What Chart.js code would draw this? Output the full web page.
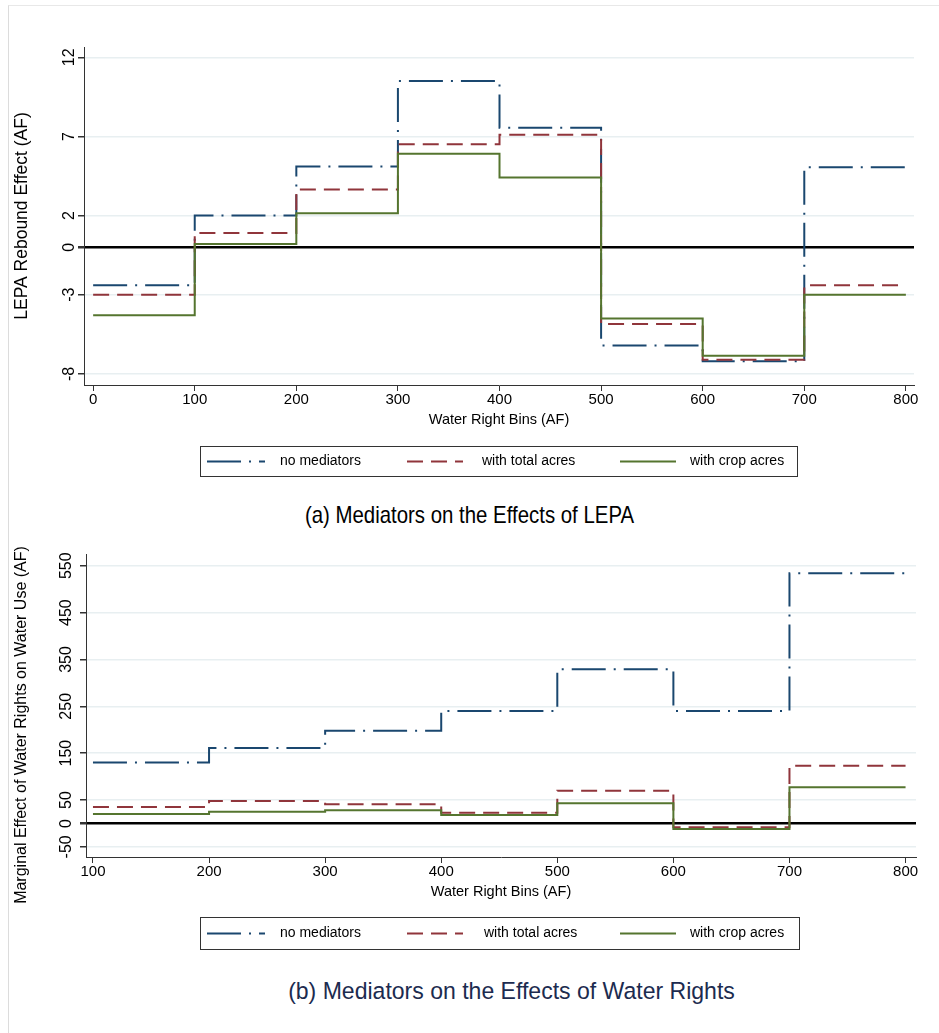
<!DOCTYPE html>
<html>
<head>
<meta charset="utf-8">
<script src="https://cdn.jsdelivr.net/npm/chart.js@4.4.0/dist/chart.umd.min.js"></script>
<style>
  body { margin: 0; background: #fff; }
  #page { position: relative; width: 939px; height: 1033px; overflow: hidden; font-family: "Liberation Sans", Arial, sans-serif; }
  #frame { position: absolute; left: 8px; top: 5px; right: -2px; bottom: -2px; border-left: 1px solid #dcdcdc; border-top: 1px solid #e8e8e8; }
  canvas { position: absolute; left: 0; }
  #chartA { top: 0; }
  #chartB { top: 540px; }
  .cap { position: absolute; white-space: nowrap; transform-origin: center center; }
  #capA { top: 501px; left: 0; width: 939px; text-align: center; font-size: 24px; color: #000; transform: scaleX(0.85); }
  #capB { top: 977px; left: 42px; width: 939px; text-align: center; font-size: 24.5px; color: #1c2b4f; transform: scaleX(0.94); }
</style>
</head>
<body>
<div id="page">
  <div id="frame"></div>
  <canvas id="chartA" width="939" height="490"></canvas>
  <div class="cap" id="capA">(a) Mediators on the Effects of LEPA</div>
  <canvas id="chartB" width="939" height="420"></canvas>
  <div class="cap" id="capB">(b) Mediators on the Effects of Water Rights</div>
</div>
<script>
// panel (a): LEPA rebound effect by water right bin
const binsA = [0, 100, 200, 300, 400, 500, 600, 700, 800];
const noMedA = [-2.4, 2.0, 5.1, 10.5, 7.55, -6.2, -7.2, 5.05];
const totalA = [-3.0, 0.9, 3.65, 6.5, 7.1, -4.85, -7.1, -2.4];
const cropA = [-4.3, 0.2, 2.15, 5.9, 4.4, -4.5, -6.85, -3.0];
const yTicksA = [12, 7, 2, 0, -3, -8];

// panel (b): marginal effect of water rights
const binsB = [100, 200, 300, 400, 500, 600, 700, 800];
const noMedB = [130, 161, 198, 240, 329, 240, 534];
const totalB = [35, 48, 41, 23, 70, -8, 123];
const cropB = [20, 25, 28, 18, 43, -12, 77];
const yTicksB = [550, 450, 350, 250, 150, 50, 0, -50];

const seriesNames = ["no mediators", "with total acres", "with crop acres"];

const FONT = '"Liberation Sans", Arial, sans-serif';
Chart.defaults.font.family = FONT;
Chart.defaults.color = "#000";

// step series: each bin value runs until the next bin edge
function steps(bins, vals) {
  const pts = vals.map((v, i) => ({ x: bins[i], y: v }));
  pts.push({ x: bins[vals.length], y: vals[vals.length - 1] });
  return pts;
}

function makeDatasets(bins, a, b, c) {
  return [
    { label: seriesNames[0], data: steps(bins, a), borderColor: "#1a476f", borderWidth: 2, borderDash: [34, 8, 2, 8], order: 3 },
    { label: seriesNames[1], data: steps(bins, b), borderColor: "#90353b", borderWidth: 2, borderDash: [16, 8], order: 2 },
    { label: seriesNames[2], data: steps(bins, c), borderColor: "#55752f", borderWidth: 2, order: 1 },
  ].map(d => Object.assign(d, { stepped: true, pointRadius: 0, fill: false }));
}

const boxLegend = {
  id: "boxLegend",
  afterDraw(chart, args, o) {
    const ctx = chart.ctx;
    ctx.save();
    ctx.strokeStyle = "#333";
    ctx.lineWidth = 1;
    ctx.strokeRect(o.left + 0.5, o.top + 0.5, o.width, o.height);
    const cy = o.top + o.height / 2 + 0.5;
    chart.data.datasets.forEach((ds, i) => {
      const it = o.items[i];
      ctx.strokeStyle = ds.borderColor;
      ctx.lineWidth = ds.borderWidth;
      ctx.setLineDash(ds.borderDash || []);
      ctx.beginPath();
      ctx.moveTo(it[0], cy);
      ctx.lineTo(it[1], cy);
      ctx.stroke();
      ctx.setLineDash([]);
      ctx.fillStyle = "#000";
      ctx.font = "14px " + FONT;
      ctx.textBaseline = "middle";
      ctx.fillText(ds.label, it[2], cy);
    });
    ctx.restore();
  }
};

const yTitle = {
  id: "yTitle",
  afterDraw(chart, args, o) {
    const ctx = chart.ctx;
    ctx.save();
    ctx.translate(o.x, o.y);
    ctx.rotate(-Math.PI / 2);
    ctx.font = o.size + "px " + FONT;
    ctx.fillStyle = "#000";
    ctx.textAlign = "center";
    ctx.textBaseline = "middle";
    ctx.fillText(o.text, 0, 0);
    ctx.restore();
  }
};

function makeChart(id, cfg) {
  return new Chart(document.getElementById(id), {
    type: "line",
    data: { datasets: cfg.datasets },
    plugins: [boxLegend, yTitle],
    options: {
      responsive: false,
      animation: false,
      layout: { padding: cfg.padding },
      plugins: {
        legend: { display: false },
        tooltip: { enabled: false },
        boxLegend: cfg.legend,
        yTitle: cfg.yTitle,
      },
      scales: {
        x: {
          type: "linear",
          min: cfg.xMin,
          max: cfg.xMax,
          afterBuildTicks: s => { s.ticks = cfg.xTicks.map(v => ({ value: v })); },
          afterFit: s => { s.height = 44; },
          grid: { drawOnChartArea: false, drawTicks: true, tickLength: 6, color: "#333" },
          border: { color: "#333", width: 1 },
          ticks: { font: { size: 15 }, padding: 0, maxRotation: 0 },
          title: { display: true, text: "Water Right Bins (AF)", font: { size: 14.5 }, padding: 0 },
        },
        y: {
          type: "linear",
          min: cfg.yMin,
          max: cfg.yMax,
          afterBuildTicks: s => { s.ticks = cfg.yTicks.map(v => ({ value: v })); },
          afterFit: s => { s.width = cfg.yWidth; },
          grid: {
            color: c => (c.tick && c.tick.value === 0 ? "#000" : "#e8eff1"),
            lineWidth: c => (c.tick && c.tick.value === 0 ? 2.5 : 1.5),
            tickColor: "#333",
            tickLength: 6,
          },
          border: { color: "#333", width: 1 },
          ticks: { font: { size: 16 }, minRotation: 90, maxRotation: 90, crossAlign: "center", padding: 0 },
        },
      },
    },
  });
}

makeChart("chartA", {
  datasets: makeDatasets(binsA, noMedA, totalA, cropA),
  xMin: -9, xMax: 808, xTicks: binsA,
  yMin: -8.7, yMax: 12.65, yTicks: yTicksA,
  yWidth: 84,
  padding: { left: 0, top: 47, right: 25, bottom: 61 },
  legend: { left: 200, top: 446, width: 597, height: 30, items: [[207, 265, 280], [407, 463, 482], [620, 676, 690]] },
  yTitle: { text: "LEPA Rebound Effect (AF)", x: 22, y: 216, size: 17.5 },
});

makeChart("chartB", {
  datasets: makeDatasets(binsB, noMedB, totalB, cropB),
  xMin: 94, xMax: 809, xTicks: binsB,
  yMin: -71.6, yMax: 575, yTicks: yTicksB,
  yWidth: 86,
  padding: { left: 0, top: 14, right: 23, bottom: 59 },
  legend: { left: 200, top: 377, width: 599, height: 32, items: [[207, 265, 280], [407, 463, 484], [620, 676, 690]] },
  yTitle: { text: "Marginal Effect of Water Rights on Water Use (AF)", x: 22, y: 185, size: 16 },
});
</script>
</body>
</html>
